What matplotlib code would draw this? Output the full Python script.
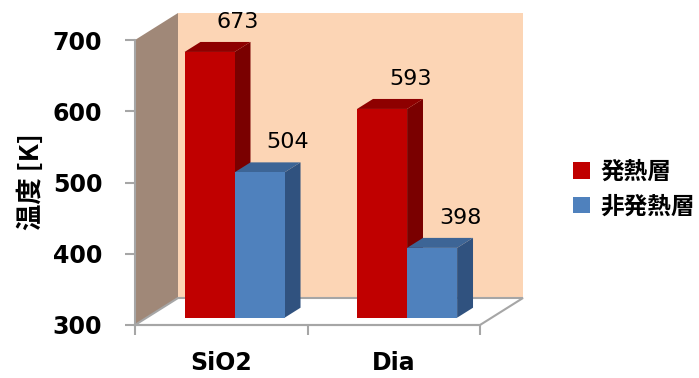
import matplotlib
matplotlib.use("Agg")
import matplotlib.pyplot as plt
from matplotlib.patches import Polygon, Patch

# data
categories = ["SiO2", "Dia"]
series_names = ["発熱層", "非発熱層"]
heat = [673, 593]
nonheat = [504, 398]
yticks = [300, 400, 500, 600, 700]

jp = ["Noto Sans CJK JP", "DejaVu Sans"]

W, H = 699, 378
fig = plt.figure(figsize=(W / 100, H / 100), dpi=100)
ax = fig.add_axes([135 / W, 53 / H, 345 / W, 285 / H])
ax.set_xlim(0, 2)
ax.set_ylim(300, 700)

# depth vector of the 3d box, in data units (43 px right, 27 px up)
dxd = 43 * 2 / 345
dyd = 27 * 400 / 285


def pt(x, y, d):
    return (x + dxd * d, y + dyd * d)


def face(pts, color, z, edge="none", lw=0):
    ax.add_patch(Polygon(pts, closed=True, facecolor=color, edgecolor=edge,
                         linewidth=lw, clip_on=False, zorder=z))


# walls and floor
face([pt(0, 300, 1), pt(2, 300, 1), pt(2, 700, 1), pt(0, 700, 1)], "#FCD5B5", 1)
face([pt(0, 300, 0), pt(0, 300, 1), pt(0, 700, 1), pt(0, 700, 0)], "#A08878", 1)
face([pt(0, 300, 0), pt(2, 300, 0), pt(2, 300, 1), pt(0, 300, 1)], "white", 2,
     edge="#A6A6A6", lw=1.5)

f0, f1 = 0.27, 0.64
colors = [("#C00000", "#7A0000", "#8E0000"), ("#4F81BD", "#30527F", "#3D6596")]


def bar(x0, x1, v, cols, z):
    front, side, top = cols
    face([pt(x1, 300, f0), pt(x1, 300, f1), pt(x1, v, f1), pt(x1, v, f0)], side, z)
    face([pt(x0, v, f0), pt(x1, v, f0), pt(x1, v, f1), pt(x0, v, f1)], top, z)
    face([pt(x0, 300, f0), pt(x1, 300, f0), pt(x1, v, f0), pt(x0, v, f0)], front, z)
    ax.annotate(str(v), xy=pt(x1, v, f0), xytext=(3, 30), textcoords="offset pixels",
                ha="center", va="center", fontsize=16, fontweight="medium",
                annotation_clip=False, zorder=10)


for i, cat in enumerate(categories):
    c = i + 0.5
    bar(c - 0.28, c + 0.01, heat[i], colors[0], 3 + i * 2)
    bar(c + 0.01, c + 0.30, nonheat[i], colors[1], 4 + i * 2)

# axes styling
for s in ["top", "right"]:
    ax.spines[s].set_visible(False)
for s in ["left", "bottom"]:
    ax.spines[s].set_color("#A6A6A6")
    ax.spines[s].set_linewidth(1.5)
    ax.spines[s].set_zorder(2.5)
ax.patch.set_visible(False)

ax.set_yticks(yticks)
ax.set_yticklabels([str(t) for t in yticks], fontsize=17, fontweight="bold")
ax.set_xticks([0, 1, 2])
ax.set_xticklabels(["", "", ""])
ax.set_xticks([0.5, 1.5], minor=True)
ax.set_xticklabels(categories, minor=True, fontsize=17, fontweight="bold")
ax.tick_params(which="major", color="#A6A6A6", length=7.5, width=1.5)
ax.tick_params(axis="y", pad=16)
ax.tick_params(axis="x", which="minor", length=0, pad=19)

fig.text(31 / W, 1 - 182 / H, "温度 [K]", rotation=90, ha="center", va="center",
         fontsize=19, fontweight="bold", family=jp)

handles = [Patch(facecolor=colors[0][0], label=series_names[0]),
           Patch(facecolor=colors[1][0], label=series_names[1])]
fig.legend(handles=handles, loc="center left", bbox_to_anchor=(552 / W, 1 - 189 / H),
           frameon=False, prop=dict(family=jp, weight="bold", size=17),
           handlelength=0.7, handleheight=0.7, handletextpad=0.45, labelspacing=0.45)

fig.savefig("out.png", dpi=100)
